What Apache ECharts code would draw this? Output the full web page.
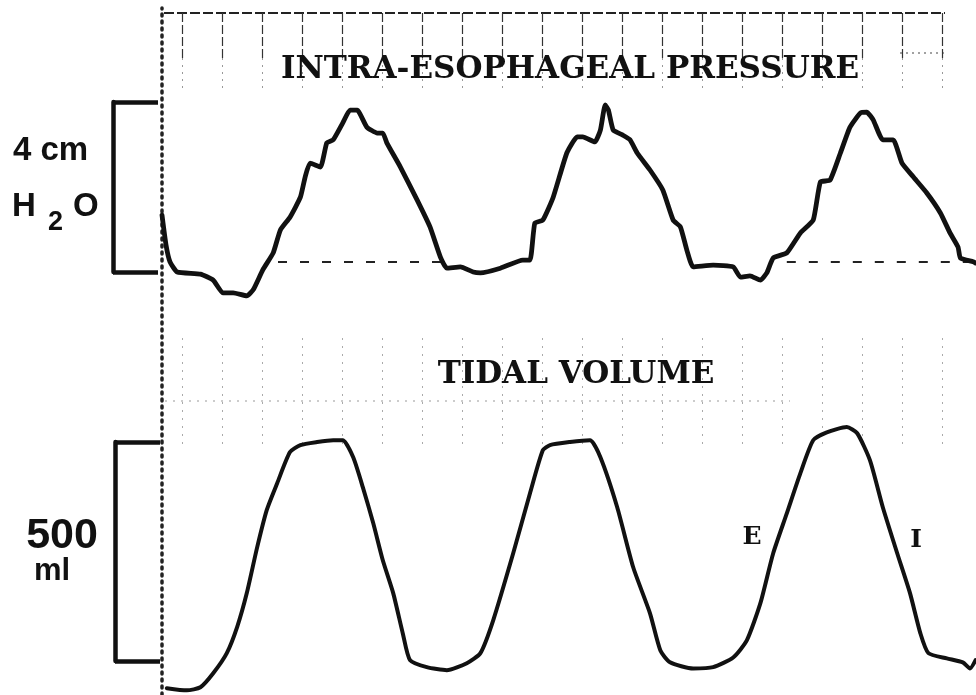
<!DOCTYPE html>
<html>
<head>
<meta charset="utf-8">
<script src="https://cdn.jsdelivr.net/npm/echarts@6/dist/echarts.min.js"></script>
<style>
html, body { margin: 0; padding: 0; background: #fff; }
#main { width: 976px; height: 695px; }
</style>
</head>
<body>
<div id="main"></div>
<script>
// time axis in seconds from the start of the record
var tMax = 10.175;

// intra-esophageal pressure, cm H2O (bracket bottom = 0)
var pressureTime = [0, 0.05, 0.10, 0.19, 0.48, 0.64, 0.76, 0.89, 1.06, 1.14,
    1.26, 1.39, 1.48, 1.60, 1.73, 1.79, 1.85, 1.98, 2.06, 2.14,
    2.26, 2.35, 2.44, 2.56, 2.69, 2.76, 2.81, 2.98, 3.19, 3.35,
    3.48, 3.56, 3.73, 3.89, 3.98, 4.23, 4.51, 4.60, 4.66, 4.76,
    4.89, 5.06, 5.19, 5.26, 5.41, 5.48, 5.54, 5.58, 5.64, 5.76,
    5.85, 5.94, 6.10, 6.26, 6.39, 6.48, 6.56, 6.64, 6.89, 7.14,
    7.23, 7.35, 7.48, 7.56, 7.64, 7.81, 7.98, 8.14, 8.23, 8.35,
    8.48, 8.60, 8.73, 8.81, 8.89, 9.01, 9.14, 9.25, 9.39, 9.56,
    9.73, 9.85, 9.95, 9.98, 10.14, 10.17];
var pressureCm = [1.34, 0.64, 0.24, 0.00, -0.05, -0.19, -0.49, -0.49, -0.56, -0.42,
    0.05, 0.45, 0.99, 1.29, 1.76, 2.24, 2.56, 2.47, 3.04, 3.11,
    3.51, 3.81, 3.81, 3.41, 3.27, 3.27, 3.04, 2.47, 1.69, 1.06,
    0.35, 0.09, 0.12, 0.00, -0.02, 0.09, 0.28, 0.28, 1.15, 1.22,
    1.76, 2.80, 3.18, 3.18, 3.06, 3.34, 3.93, 3.81, 3.34, 3.22,
    3.11, 2.80, 2.40, 1.93, 1.22, 1.06, 0.52, 0.12, 0.16, 0.12,
    -0.12, -0.09, -0.19, -0.02, 0.33, 0.45, 0.92, 1.22, 2.12, 2.16,
    2.80, 3.41, 3.74, 3.76, 3.58, 3.11, 3.11, 2.56, 2.24, 1.86,
    1.39, 0.92, 0.59, 0.33, 0.24, 0.21];
var pressureBaseline = 0.24;
var baselineSpans = [[1.45, 3.54], [7.81, 10.17]];

// tidal volume, ml (bracket bottom = 0)
var volumeTime = [0.06, 0.31, 0.48, 0.64, 0.81, 0.94, 1.06, 1.19, 1.31, 1.44,
    1.60, 1.73, 1.94, 2.14, 2.26, 2.39, 2.51, 2.64, 2.76, 2.89,
    3.01, 3.10, 3.31, 3.56, 3.81, 3.98, 4.14, 4.39, 4.60, 4.76,
    4.85, 5.10, 5.35, 5.48, 5.69, 5.89, 6.10, 6.23, 6.35, 6.64,
    6.89, 7.14, 7.31, 7.48, 7.64, 7.81, 7.98, 8.14, 8.31, 8.56,
    8.69, 8.85, 9.01, 9.19, 9.35, 9.48, 9.58, 9.81, 10.01, 10.10,
    10.17];
var volumeMl = [-62, -67, -60, -28, 18, 78, 155, 260, 345, 406,
    477, 493, 500, 504, 504, 465, 397, 315, 230, 155,
    63, 2, -14, -21, -5, 18, 93, 246, 383, 481,
    493, 500, 504, 465, 351, 214, 109, 24, -3, -17,
    -14, 8, 47, 132, 246, 337, 429, 504, 522, 534,
    520, 458, 351, 246, 155, 63, 18, 6, -3, -17,
    2];

// scale brackets and phase labels
var pressureScale = [0, 4];
var volumeScale = [0, 500];
var phaseLabels = [
    { name: 'E', t: 7.375, ml: 281 },
    { name: 'I', t: 9.425, ml: 276 }
];

function pairs(xs, ys) {
    return xs.map(function (x, i) { return [x, ys[i]]; });
}

var ink = '#111';
var serif = '"DejaVu Serif", serif';
var sans = '"Liberation Sans", Arial, sans-serif';

function hiddenX(grid, min) {
    return { type: 'value', gridIndex: grid, min: min, max: tMax, show: false };
}
function paperX(grid, color, type, width) {
    return {
        type: 'value', gridIndex: grid, min: -0.25, max: tMax, interval: 0.5,
        axisLine: { show: false }, axisTick: { show: false }, axisLabel: { show: false },
        splitLine: { show: true, showMinLine: false, showMaxLine: false,
            lineStyle: { color: color, type: type, width: width } }
    };
}
function hiddenY(grid, min, max) {
    return { type: 'value', gridIndex: grid, min: min, max: max, show: false };
}
function bracketY(grid, range) {
    return {
        type: 'value', gridIndex: grid, min: range[0], max: range[1], interval: range[1] - range[0],
        axisLine: { show: true, lineStyle: { color: ink, width: 4.5 } },
        axisTick: { show: false }, axisLabel: { show: false },
        splitLine: { show: true, lineStyle: { color: ink, width: 4.5, type: 'solid' } }
    };
}

var myChart = echarts.init(document.getElementById('main'));

var option = {
    backgroundColor: '#fff',
    animation: false,
    grid: [
        { left: 162, right: 0, top: 8, bottom: 0 },            // 0 record edge
        { left: 142, right: 0, top: 13, height: 45 },           // 1 paper top
        { left: 142, right: 0, top: 58, height: 35 },           // 2 paper top, faint
        { left: 142, right: 0, top: 338, height: 110 },         // 3 paper middle
        { left: 162, right: 0, top: 85, height: 221 },          // 4 pressure
        { left: 162, right: 0, top: 409.15, height: 284.7 },    // 5 volume
        { left: 113, top: 102, width: 45, height: 170 },        // 6 pressure bracket
        { left: 115, top: 442, width: 45, height: 219 }         // 7 volume bracket
    ],
    xAxis: [
        hiddenX(0, 0),
        paperX(1, '#333', [9, 3], 1.2),
        paperX(2, '#999', [2, 5], 1),
        paperX(3, '#aaa', [2, 6], 1),
        hiddenX(4, 0),
        hiddenX(5, 0),
        { type: 'value', gridIndex: 6, min: 0, max: 1, show: false },
        { type: 'value', gridIndex: 7, min: 0, max: 1, show: false }
    ],
    yAxis: [
        {
            type: 'value', gridIndex: 0, min: 0, max: 1,
            axisLine: { show: true, lineStyle: { color: '#222', width: 3.5, type: [2, 5], cap: 'round' } },
            axisTick: { show: false }, axisLabel: { show: false }, splitLine: { show: false }
        },
        hiddenY(1, 0, 1),
        hiddenY(2, 0, 1),
        hiddenY(3, 0, 1),
        hiddenY(4, -0.8, 4.4),
        hiddenY(5, -75, 575),
        bracketY(6, pressureScale),
        bracketY(7, volumeScale)
    ],
    series: [
        {
            name: 'Intra-esophageal pressure',
            type: 'line', xAxisIndex: 4, yAxisIndex: 4,
            data: pairs(pressureTime, pressureCm),
            symbol: 'none', smooth: 0.15,
            lineStyle: { color: ink, width: 4.8, join: 'round', cap: 'round' },
            markLine: {
                silent: true, symbol: 'none', label: { show: false },
                lineStyle: { color: '#222', type: [9, 13], width: 2.2 },
                data: baselineSpans.map(function (s) {
                    return [{ coord: [s[0], pressureBaseline] }, { coord: [s[1], pressureBaseline] }];
                })
            },
            z: 5
        },
        {
            name: 'Tidal volume',
            type: 'line', xAxisIndex: 5, yAxisIndex: 5,
            data: pairs(volumeTime, volumeMl),
            symbol: 'none', smooth: 0.2,
            lineStyle: { color: ink, width: 4, join: 'round', cap: 'round' },
            markPoint: {
                silent: true, symbol: 'circle', symbolSize: 1,
                itemStyle: { color: 'rgba(0,0,0,0)' },
                label: { show: true, position: 'inside', color: ink, fontFamily: serif,
                    fontWeight: 'bold', fontSize: 25, formatter: '{b}' },
                data: phaseLabels.map(function (p) { return { name: p.name, coord: [p.t, p.ml] }; })
            },
            z: 5
        }
    ],
    graphic: [
        { type: 'line', shape: { x1: 164, y1: 13, x2: 945, y2: 13 },
          style: { stroke: '#222', lineWidth: 1.8, lineDash: [10, 3] } },
        { type: 'line', shape: { x1: 900, y1: 53, x2: 948, y2: 53 },
          style: { stroke: '#444', lineWidth: 1.2, lineDash: [2, 4] } },
        { type: 'line', shape: { x1: 165, y1: 401, x2: 790, y2: 401 },
          style: { stroke: '#999', lineWidth: 1, lineDash: [2, 6] } },
        { type: 'text', z: 10, x: 570, y: 70,
          style: { text: 'INTRA-ESOPHAGEAL PRESSURE', font: 'bold 31px ' + serif, fill: ink,
                   textAlign: 'center', textVerticalAlign: 'middle' } },
        { type: 'text', z: 10, x: 576, y: 375,
          style: { text: 'TIDAL VOLUME', font: 'bold 31px ' + serif, fill: ink,
                   textAlign: 'center', textVerticalAlign: 'middle' } },
        { type: 'text', z: 10, x: 13, y: 151,
          style: { text: '4 cm', font: 'bold 33px ' + sans, fill: ink,
                   textAlign: 'left', textVerticalAlign: 'middle' } },
        { type: 'text', z: 10, x: 12, y: 207,
          style: { text: 'H', font: 'bold 33px ' + sans, fill: ink,
                   textAlign: 'left', textVerticalAlign: 'middle' } },
        { type: 'text', z: 10, x: 48, y: 223,
          style: { text: '2', font: 'bold 27px ' + sans, fill: ink,
                   textAlign: 'left', textVerticalAlign: 'middle' } },
        { type: 'text', z: 10, x: 73, y: 207,
          style: { text: 'O', font: 'bold 33px ' + sans, fill: ink,
                   textAlign: 'left', textVerticalAlign: 'middle' } },
        { type: 'text', z: 10, x: 62, y: 536,
          style: { text: '500', font: 'bold 43px ' + sans, fill: ink,
                   textAlign: 'center', textVerticalAlign: 'middle' } },
        { type: 'text', z: 10, x: 52, y: 571,
          style: { text: 'ml', font: 'bold 31px ' + sans, fill: ink,
                   textAlign: 'center', textVerticalAlign: 'middle' } }
    ]
};

myChart.setOption(option);
</script>
</body>
</html>
